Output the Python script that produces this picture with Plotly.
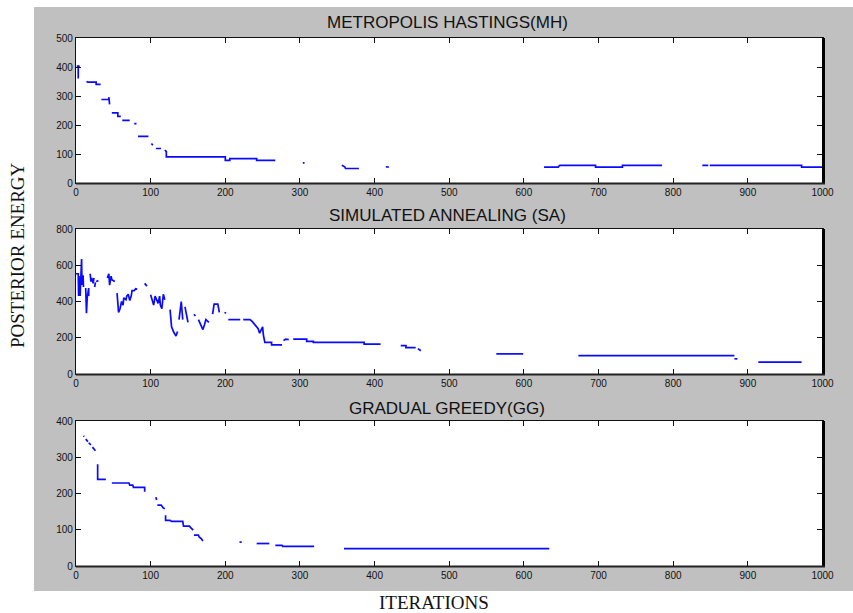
import plotly.graph_objects as go

W, H = 853, 613

# ---------------- data (None = gap in the trace) ----------------
mh_x = [1, 5, None, 3, 3, None, 14, 16, 27, 27, 33, None, 34, 44, 44, 45, None,
        48, 56, 56, 60, None, 62, 72, None, 78, 81, None, 83, 97, None, 101, 103, None,
        107, 114, None, 119, 121, 121, 200, 200, 206, 206, 242, 242, 267, None,
        305, 305, None, 356, 360, 361, 379, None, 415, 419, None,
        627, 646, 648, 696, 696, 732, 732, 785, None, 839, 847, None,
        849, 972, 972, 1000]
mh_y = [402, 402, None, 406, 360, None, 350, 348, 348, 340, 340, None, 288, 288, 296, 271, None,
        242, 242, 230, 230, None, 216, 216, None, 205, 205, None, 161, 161, None, 136, 130, None,
        119, 119, None, 114, 108, 90, 90, 78, 78, 84, 84, 78, 78, None,
        72, 66, None, 61, 56, 50, 50, None, 56, 55, None,
        55, 55, 61, 61, 55, 55, 61, 61, None, 61, 61, None,
        61, 61, 55, 55]

sa_x = [0, 3, 3.5, 4, 5.5, 7.5, 8, 9.5, 10, None,
        13, 14, 15, 17, 17, None, 19, 20, 21, 23, 24, None, 25, 26, None, 27, 30, None,
        42, 44, 45, 47, 48, 52, None,
        55, 56, 57, 59, 61, 63, 64, 67, 68, 70, 72, 74, 75, 78, 80, 82, None,
        92, 95, None,
        100, 102, 104, 106, 108, 110, 112, 113, 115, 117, 119, None,
        126, 128, 131, 134, 136, None, 138, 140, 141, 143, None, 146, 148, 150, None,
        158, 160, None, 164, 166, 168, 170, 172, 174, 178, None,
        183, 185, 190, 192, None, 199, 201, None, 204, 220, None,
        224, 233, 236, 240, 244, 246, 250, 251, 253, 262, 262, 276, None,
        278, 281, 285, None, 291, 309, 309, 318, 318, 386, 386, 408, None,
        435, 442, 442, 455, None, 458, 462, None,
        563, 599, None, 673, 882, None, 882, 886, None, 914, 972]
sa_y = [553, 553, 430, 540, 430, 634, 492, 545, 480, None,
        474, 335, 420, 474, 430, None, 553, 510, 530, 500, 530, None, 480, 505, None, 510, 515, None,
        530, 553, 490, 540, 520, 510, None,
        446, 400, 340, 360, 400, 380, 420, 410, 430, 440, 405, 430, 460, 460, 470, 467, None,
        500, 485, None,
        437, 400, 380, 430, 410, 390, 430, 380, 360, 440, 410, None,
        355, 260, 230, 210, 235, None, 300, 370, 400, 300, None, 370, 320, 285, None,
        330, 320, None, 300, 280, 260, 245, 270, 300, 285, None,
        330, 385, 385, 340, None, 340, 335, None, 300, 300, None,
        300, 300, 290, 270, 250, 225, 260, 215, 174, 174, 161, 161, None,
        185, 192, 190, None, 192, 192, 180, 180, 174, 174, 165, 165, None,
        157, 157, 146, 146, None, 140, 128, None,
        111, 111, None, 101, 101, None, 84, 83, None, 65, 65]

gg_x = [10, 11, None, 13, 16, None, 17, 20, None, 22, 26, None,
        29, 29, 40, None, 48, 71, 72, 76, 77, 92, 92, None, 107, 108, None,
        109, 114, 117, 119, None,
        120, 120, 126, 128, 143, 144, 152, 153, 157, None,
        158, 164, 165, 168, 170, None, 219, 222, None, 242, 259, None,
        267, 276, 277, 319, None, 359, 634]
gg_y = [359, 357, None, 350, 343, None, 340, 334, None, 328, 318, None,
        281, 239, 239, None, 229, 229, 223, 223, 217, 217, 205, None, 190, 182, None,
        168, 168, 160, 158, None,
        140, 126, 126, 123, 123, 110, 110, 107, 99, None,
        85, 85, 80, 75, 69, None, 66, 66, None, 62, 62, None,
        57, 57, 54, 54, None, 48, 48]

titles = ["METROPOLIS HASTINGS(MH)", "SIMULATED ANNEALING (SA)", "GRADUAL GREEDY(GG)"]
y_ranges = [[0, 500], [0, 800], [0, 400]]
y_dticks = [100, 200, 100]
x_ticks = [0, 100, 200, 300, 400, 500, 600, 700, 800, 900, 1000]

# ---------------- layout geometry (pixels) ----------------
ax_left, ax_right = 76, 822.5
ax_tops = [38, 229, 421]
ax_bottoms = [183, 374, 566]
title_y = [23, 215, 408]

def px_x(p):
    return p / W

def px_y(p):
    return 1 - p / H

fig = go.Figure()
series = [(mh_x, mh_y), (sa_x, sa_y), (gg_x, gg_y)]
for i, (xs, ys) in enumerate(series):
    suffix = "" if i == 0 else str(i + 1)
    fig.add_trace(go.Scatter(x=xs, y=ys, mode="lines",
                             line=dict(color="#0a0aff", width=1.7),
                             connectgaps=False, showlegend=False,
                             xaxis="x" + suffix, yaxis="y" + suffix))

axis_common = dict(showgrid=False, zeroline=False, showline=True, linecolor="#111",
                   linewidth=1.2, mirror="ticks", ticks="inside", ticklen=5,
                   tickwidth=1.2, tickcolor="#111", automargin=False,
                   tickfont=dict(family="Liberation Sans, Arial", size=10, color="#111"))

layout = dict(width=W, height=H,
              margin=dict(l=0, r=0, t=0, b=0, pad=0, autoexpand=False),
              paper_bgcolor="#c0c0c0", plot_bgcolor="white", showlegend=False)

# white page outside the grey figure area
shapes = [
    dict(type="rect", xref="paper", yref="paper", x0=-0.01, x1=px_x(34), y0=-0.01, y1=1.01,
         fillcolor="white", line=dict(width=0), layer="below"),
    dict(type="rect", xref="paper", yref="paper", x0=-0.01, x1=1.01, y0=px_y(7), y1=1.01,
         fillcolor="white", line=dict(width=0), layer="below"),
    dict(type="rect", xref="paper", yref="paper", x0=-0.01, x1=1.01, y0=-0.01, y1=px_y(591),
         fillcolor="white", line=dict(width=0), layer="below"),
]
annotations = []
for i in range(3):
    suffix = "" if i == 0 else str(i + 1)
    xa = dict(axis_common, domain=[px_x(ax_left), px_x(ax_right)], range=[0, 1000],
              tickvals=x_ticks, anchor="y" + suffix)
    ya = dict(axis_common, domain=[px_y(ax_bottoms[i]), px_y(ax_tops[i])],
              range=y_ranges[i], dtick=y_dticks[i], tick0=0, anchor="x" + suffix)
    layout["xaxis" + suffix] = xa
    layout["yaxis" + suffix] = ya
    # heavier right / bottom frame edges
    shapes.append(dict(type="line", xref="paper", yref="paper",
                       x0=px_x(ax_right + 1), x1=px_x(ax_right + 1),
                       y0=px_y(ax_bottoms[i] + 1), y1=px_y(ax_tops[i]),
                       line=dict(color="#000", width=3)))
    shapes.append(dict(type="line", xref="paper", yref="paper",
                       x0=px_x(ax_left), x1=px_x(ax_right + 2.5),
                       y0=px_y(ax_bottoms[i] + 0.5), y1=px_y(ax_bottoms[i] + 0.5),
                       line=dict(color="#222", width=2)))
    annotations.append(dict(text=titles[i], xref="paper", yref="paper",
                            x=px_x(447), y=px_y(title_y[i]), xanchor="center",
                            yanchor="middle", showarrow=False,
                            font=dict(family="Liberation Sans, Arial", size=17, color="#111")))

annotations.append(dict(text="POSTERIOR ENERGY", xref="paper", yref="paper",
                        x=px_x(17), y=px_y(255), xanchor="center", yanchor="middle",
                        textangle=-90, showarrow=False,
                        font=dict(family="Liberation Serif, Times New Roman", size=19, color="#111")))
annotations.append(dict(text="ITERATIONS", xref="paper", yref="paper",
                        x=px_x(434), y=px_y(602), xanchor="center", yanchor="middle",
                        showarrow=False,
                        font=dict(family="Liberation Serif, Times New Roman", size=19, color="#111")))

layout["shapes"] = shapes
layout["annotations"] = annotations
fig.update_layout(**layout)
fig.write_html("out.html")
